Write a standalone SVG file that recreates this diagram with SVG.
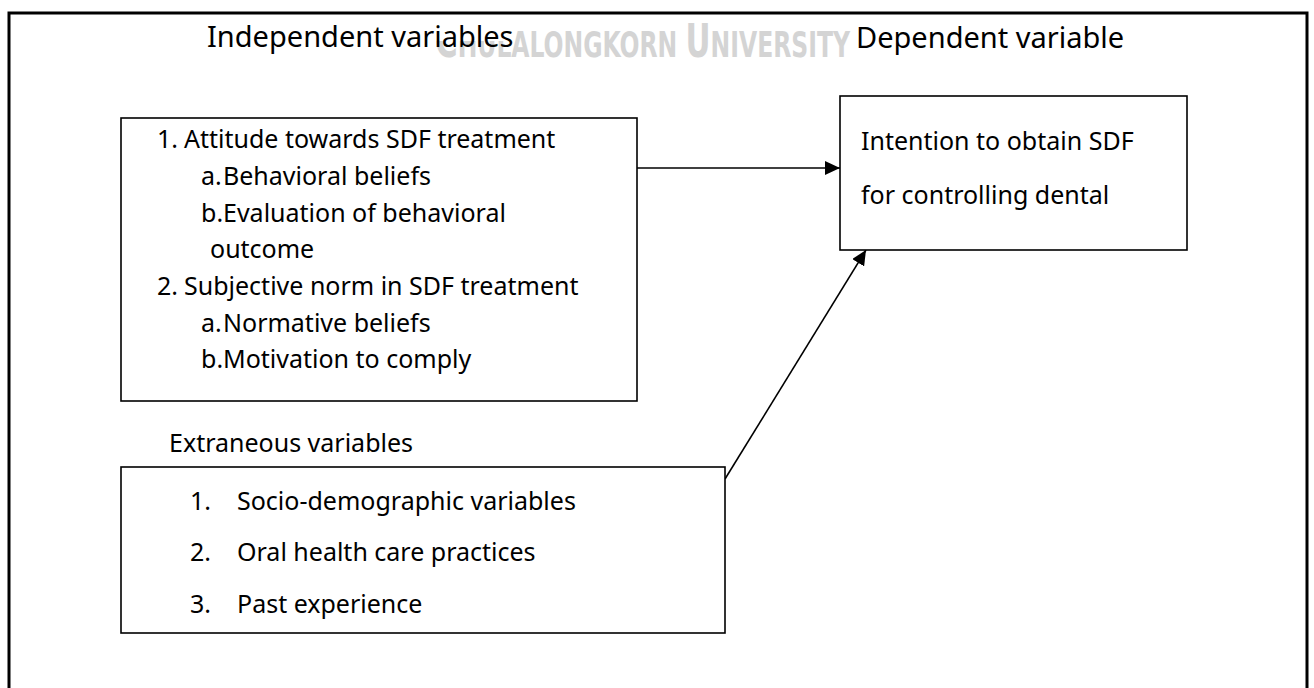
<svg xmlns="http://www.w3.org/2000/svg" width="1314" height="688" viewBox="0 0 1314 688">
  <style>
    .frame { fill: none; stroke: #000; stroke-width: 3; }
    .box { fill: #fff; stroke: #000; stroke-width: 1.6; }
    .edge { fill: none; stroke: #000; stroke-width: 1.6; }
    .head { font-family: "Noto Sans", "Open Sans", sans-serif; font-size: 29px; fill: #000; }
    .txt { font-family: "Noto Sans", "Open Sans", sans-serif; font-size: 25px; fill: #000; }
    .mark { font-family: "DejaVu Sans Condensed", "DejaVu Sans", sans-serif; font-weight: bold; fill: #d4d4d4; }
  </style>
  <defs>
    <marker id="arrow" markerUnits="userSpaceOnUse" markerWidth="16" markerHeight="14" refX="15" refY="7" orient="auto">
      <path d="M0,0 L15,7 L0,14 Z" fill="#000"/>
    </marker>
  </defs>

  <rect width="1314" height="688" fill="#fff"/>

  <!-- university watermark, partly masked by the heading's white text box -->
  <text class="mark" x="435" y="57" textLength="415" lengthAdjust="spacingAndGlyphs"><tspan font-size="46">C</tspan><tspan font-size="35">HULALONGKORN </tspan><tspan font-size="46">U</tspan><tspan font-size="35">NIVERSITY</tspan></text>
  <rect x="200" y="16" width="312" height="25" fill="#fff"/>

  <!-- page frame (bottom edge runs below the visible area) -->
  <path class="frame" d="M9,700 L9,13 L1307,13 L1307,700"/>

  <!-- column headings -->
  <text class="head" x="207" y="47">Independent variables</text>
  <text class="head" x="856" y="48">Dependent variable</text>
  <text class="txt" x="169" y="452">Extraneous variables</text>

  <!-- connectors -->
  <g id="connectors">
    <line class="edge" x1="637" y1="168" x2="840" y2="168" marker-end="url(#arrow)"/>
    <line class="edge" x1="725" y1="479" x2="866" y2="250" marker-end="url(#arrow)"/>
  </g>

  <!-- independent variables -->
  <g id="node-independent">
    <rect class="box" x="121" y="118" width="516" height="283"/>
    <text class="txt" x="157" y="148">1.</text>
    <text class="txt" x="184" y="148">Attitude towards SDF treatment</text>
    <text class="txt" x="201" y="185">a.</text>
    <text class="txt" x="223" y="185">Behavioral beliefs</text>
    <text class="txt" x="201" y="222">b.</text>
    <text class="txt" x="223" y="222">Evaluation of behavioral</text>
    <text class="txt" x="210" y="258">outcome</text>
    <text class="txt" x="157" y="295">2.</text>
    <text class="txt" x="184" y="295">Subjective norm in SDF treatment</text>
    <text class="txt" x="201" y="332">a.</text>
    <text class="txt" x="223" y="332">Normative beliefs</text>
    <text class="txt" x="201" y="368">b.</text>
    <text class="txt" x="223" y="368">Motivation to comply</text>
  </g>

  <!-- dependent variable -->
  <g id="node-dependent">
    <rect class="box" x="840" y="96" width="347" height="154"/>
    <text class="txt" x="861" y="150">Intention to obtain SDF</text>
    <text class="txt" x="861" y="204">for controlling dental</text>
  </g>

  <!-- extraneous variables -->
  <g id="node-extraneous">
    <rect class="box" x="121" y="467" width="604" height="166"/>
    <text class="txt" x="190" y="510">1.</text>
    <text class="txt" x="237" y="510">Socio-demographic variables</text>
    <text class="txt" x="190" y="561">2.</text>
    <text class="txt" x="237" y="561">Oral health care practices</text>
    <text class="txt" x="190" y="613">3.</text>
    <text class="txt" x="237" y="613">Past experience</text>
  </g>
</svg>
